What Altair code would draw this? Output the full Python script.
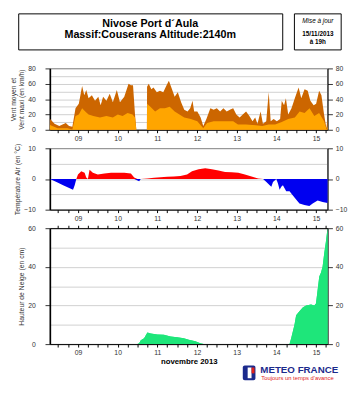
import altair as alt
import pandas as pd

# hours counted from 08/11/2013 19h (axis spans 7 days = 168 h)
wind_max_h = [0, 0.4, 2.8, 5.7, 9.6, 11.6, 13.6, 15.5, 17.5, 19.5, 20.8, 22, 23.4, 25.4, 27.3, 29.3, 30.7, 32.2, 34.2,
              36.2, 38.1, 40.5, 42.4, 45, 47.6, 49, 50.3, 51.5, 52.3, 58.7, 58.8, 59.8, 61.4, 62.7, 64.7, 66.6, 68.6,
              70.6, 72, 73.5, 75.5, 77.4, 79.4, 81.3, 83.3, 84.9, 86.3, 87.3, 89.2, 91.2, 92.8, 94.7, 97.1, 99.1, 101,
              103, 105, 107, 108.9, 110.9, 112.8, 114.8, 116.7, 118.7, 120.7, 122.6, 124.2, 125.6, 127.5, 128.9,
              130.9, 132.4, 133.6, 135.4, 137.3, 139.3, 140.3, 141.7, 142.8, 144.2, 146.2, 148.2, 150.5, 152.1, 154.1,
              156, 157.6, 159.6, 161.1, 162.9, 164.3, 165.9, 167.3, 168]
wind_max = [14, 13.5, 8, 5, 9, 5, 4, 28, 34, 57, 45, 52, 41, 45, 38, 43, 32, 43, 38,
            47, 36, 52, 36, 43, 60, 58, 58, 20, 0, 0, 56, 60, 53, 55, 49, 51, 49,
            58, 64, 55, 43, 49, 36, 26, 24, 28, 38, 24, 24, 16, 5, 14, 28, 26, 28,
            24, 28, 24, 26, 28, 20, 16, 20, 24, 18, 11, 16, 8, 24, 8,
            11, 49, 11, 14, 11, 14, 38, 32, 41, 20, 28, 41, 55, 41, 53,
            51, 38, 32, 34, 51, 45, 20, 2, 15]

wind_mean_h = [0, 0.4, 4.7, 10.6, 13.6, 15.5, 17.5, 19.5, 21.4, 23.4, 26.3, 30.3, 34.2, 38.1, 41.1, 44, 47, 50, 51.5,
               52.3, 58.7, 58.8, 60.8, 63.7, 66.6, 69.6, 72.5, 75.5, 78.4, 81.3, 85.3, 89.2, 92.8, 95.1, 99.1, 105,
               110.9, 113.8, 118.7, 124.6, 128.5, 132.4, 136.3, 140.3, 144.2, 148.2, 151.1, 154.1, 157.1, 160, 162.9,
               165.9, 167.5, 168]
wind_mean = [7, 6, 2, 2, 0.5, 18, 20, 28, 24, 20, 18, 16, 18, 16, 20, 18, 22, 20, 16,
             0, 0, 34, 30, 24, 28, 28, 30, 24, 20, 16, 14, 11, 2, 9, 11, 11,
             11, 7, 7, 6, 5, 7, 7, 10, 14, 16, 24, 22, 28, 18, 22,
             11, 0, 5]

temp_h = [0, 4, 8, 12, 14, 15, 16, 17, 19, 21, 22, 23, 24, 26, 29, 33, 37, 41, 45, 49, 51, 53, 54, 55, 59, 63, 67, 71, 75,
          79, 83, 86, 90, 94, 98, 102, 106, 110, 114, 118, 122, 126, 129, 131, 133, 134, 135, 137, 138, 139, 140, 141,
          143, 145, 148, 151, 154, 157, 159, 162, 165, 168]
temp = [0, -1, -2, -3, -3.5, -2, 0, 1.5, 2.5, 2, 0.5, 0, 3, 2, 1.5, 1.8, 2, 2, 2, 1.8, 0.5, -0.5, -0.7, 0, 0.2, 0.4, 0.6,
        0.7, 0.8, 1, 1.5, 2.5, 3.2, 3.5, 3.2, 2.8, 2.3, 2.2, 2, 1.5, 0.8, 0.2, 0, -1, -2, -2.5, -1, 0, -1.5, -3.5, -2.5,
        -2, -4, -4, -6, -8, -8.5, -8.8, -8, -7, -7.5, -7.8]

snow_h = [0, 53, 54, 55, 57, 59, 61, 65, 69, 73, 77, 81, 84, 88, 91, 93, 145, 146, 148, 149, 151, 153, 155, 158, 160, 161,
          162, 163, 164, 165, 166, 167, 168]
snow = [0, 0, 0.5, 2, 3, 6, 5.5, 5, 4.8, 4, 3.5, 3, 2.2, 1.5, 0.5, 0, 0, 3, 10, 15, 17, 19, 20, 20.5, 20, 21,
        28, 35, 37, 40, 47, 53, 60]

day_labels = ["09", "10", "11", "12", "13", "14", "15"]

W = 285
FONT = "Liberation Sans"
x_ticks = list(range(5, 168, 6))
label_map = "{" + ",".join(f"'{17 + 24 * i}': '{d}'" for i, d in enumerate(day_labels)) + "}"
label_expr = f"{label_map}[''+datum.value] || ''"
xs = alt.Scale(domain=[0, 168], nice=False, zero=False)


def x_axis(orient="bottom", title=None, labels=True):
    kw = dict(values=x_ticks, labelExpr=label_expr, grid=False, tickSize=3, labelFontSize=7, labelColor="#333",
              labelFont=FONT, domainColor="black", tickColor="black", labelPadding=2, orient=orient,
              labels=labels, labelFlush=False, labelOverlap=False)
    if title:
        kw.update(title=title, titleFont=FONT, titleFontSize=8, titleFontWeight="bold", titleColor="black",
                  titlePadding=2)
    else:
        kw.update(title=None)
    return alt.Axis(**kw)


def y_left(values, step, title):
    return alt.Axis(values=values, labelExpr=f"datum.value % {step} == 0 ? datum.label : ''", grid=True,
                    gridColor="#b0b0b0", gridWidth=0.6, tickSize=5, labelPadding=10, labelFontSize=7,
                    labelColor="#333", labelFont=FONT, domainColor="black", domainWidth=1.6, tickColor="#333",
                    tickOpacity={"condition": {"test": f"datum.value % {step} == 0", "value": 1}, "value": 0},
                    title=title, titleFont=FONT, titleFontSize=7, titleFontWeight="normal", titleColor="#333",
                    titlePadding=3, orient="left")


def y_right(values, step):
    return alt.Axis(values=values, labelExpr=f"datum.value % {step} == 0 ? datum.label : ''", grid=False,
                    tickSize=5, labelPadding=3, labelFontSize=7, labelColor="#333", labelFont=FONT,
                    domainColor="black", tickColor="#333",
                    tickOpacity={"condition": {"test": f"datum.value % {step} == 0", "value": 1}, "value": 0},
                    title=None, orient="right")


# ---------- panel 1 : wind ----------
df_max = pd.DataFrame({"h": wind_max_h, "v": wind_max})
df_mean = pd.DataFrame({"h": wind_mean_h, "v": wind_mean})
ys1 = alt.Scale(domain=[0, 80], nice=False)
v1 = list(range(0, 81, 10))
l_max = alt.Chart(df_max).mark_area(color="#CC6600").encode(
    x=alt.X("h:Q", scale=xs, axis=x_axis()),
    y=alt.Y("v:Q", scale=ys1, axis=y_left(v1, 20, ["Vent moyen et", "Vent maxi (en km/h)"])))
l_mean = alt.Chart(df_mean).mark_area(color="#FFA500").encode(
    x=alt.X("h:Q", scale=xs, axis=x_axis()),
    y=alt.Y("v:Q", scale=ys1, axis=y_right(v1, 20)))

hdr = pd.DataFrame({"a": [0]})
box1 = alt.Chart(hdr).mark_rect(fill="white", stroke="black", strokeWidth=1).encode(
    x=alt.value(-32), x2=alt.value(239), y=alt.value(-56), y2=alt.value(-19))
box2 = alt.Chart(hdr).mark_rect(fill="white", stroke="black", strokeWidth=1).encode(
    x=alt.value(251), x2=alt.value(299), y=alt.value(-56), y2=alt.value(-19))
t1 = alt.Chart(hdr).mark_text(text="Nivose Port d\u00b4Aula", font=FONT, fontSize=11, fontWeight="bold",
                              align="center", baseline="middle").encode(x=alt.value(103), y=alt.value(-46))
t2 = alt.Chart(hdr).mark_text(text="Massif:Couserans Altitude:2140m", font=FONT, fontSize=11, fontWeight="bold",
                              align="center", baseline="middle").encode(x=alt.value(103), y=alt.value(-34))
m1 = alt.Chart(hdr).mark_text(text="Mise \u00e0 jour", font=FONT, fontSize=6.5, fontStyle="italic",
                              align="center", baseline="middle").encode(x=alt.value(275), y=alt.value(-49))
m2 = alt.Chart(hdr).mark_text(text="15/11/2013", font=FONT, fontSize=6.5, fontWeight="bold",
                              align="center", baseline="middle").encode(x=alt.value(275), y=alt.value(-35))
m3 = alt.Chart(hdr).mark_text(text="\u00e0 19h", font=FONT, fontSize=6.5, fontWeight="bold",
                              align="center", baseline="middle").encode(x=alt.value(275), y=alt.value(-27))

p1 = alt.layer(l_max, l_mean, box1, box2, t1, t2, m1, m2, m3).resolve_axis(y="independent").properties(
    width=W, height=63)

# ---------- panel 2 : temperature ----------
df_t = pd.DataFrame({"h": temp_h, "t": temp})
ys2 = alt.Scale(domain=[-10, 10], nice=False)
v2 = list(range(-10, 11, 5))
base_t = alt.Chart(df_t).transform_calculate(pos="max(datum.t, 0)", neg="min(datum.t, 0)")
l_pos = base_t.mark_area(color="#FF0000").encode(
    x=alt.X("h:Q", scale=xs, axis=x_axis()),
    y=alt.Y("pos:Q", scale=ys2, axis=y_left(v2, 10, "Temp\u00e9rature Air (en \u00b0C)")))
l_neg = base_t.mark_area(color="#0000F0").encode(
    x=alt.X("h:Q", scale=xs, axis=x_axis()),
    y=alt.Y("neg:Q", scale=ys2, axis=y_right(v2, 10)))
p2 = alt.layer(l_pos, l_neg).resolve_axis(y="independent").properties(width=W, height=63)

# ---------- panel 3 : snow ----------
df_s = pd.DataFrame({"h": snow_h, "s": snow})
ys3 = alt.Scale(domain=[0, 60], nice=False)
v3 = list(range(0, 61, 10))
l_s1 = alt.Chart(df_s).mark_area(color="#1EE67A").encode(
    x=alt.X("h:Q", scale=xs, axis=x_axis(title="novembre 2013")),
    y=alt.Y("s:Q", scale=ys3, axis=y_left(v3, 20, "Hauteur de Neige (en cm)")))
l_s2 = alt.Chart(df_s).mark_area(color="#1EE67A").encode(
    x=alt.X("h:Q", scale=xs, axis=x_axis(orient="top", labels=False)),
    y=alt.Y("s:Q", scale=ys3, axis=y_right(v3, 20)))

logo_b = alt.Chart(hdr).mark_rect(fill="#1B2A8C", cornerRadius=2).encode(
    x=alt.value(198), x2=alt.value(211), y=alt.value(141), y2=alt.value(156))
logo_w = alt.Chart(hdr).mark_rect(fill="white").encode(
    x=alt.value(203), x2=alt.value(207), y=alt.value(143), y2=alt.value(154))
logo_r = alt.Chart(hdr).mark_rect(fill="#E2231A").encode(
    x=alt.value(207), x2=alt.value(210), y=alt.value(143), y2=alt.value(149))
logo_t = alt.Chart(hdr).mark_text(text="METEO FRANCE", font=FONT, fontSize=10, fontWeight="bold", color="#1B2A8C",
                                  align="left", baseline="middle").encode(x=alt.value(216), y=alt.value(146))
logo_s = alt.Chart(hdr).mark_text(text="Toujours un temps d'avance", font=FONT, fontSize=6, color="#E2231A",
                                  align="left", baseline="middle").encode(x=alt.value(217), y=alt.value(154))

p3 = alt.layer(l_s1, l_s2, logo_b, logo_w, logo_r, logo_t, logo_s).resolve_axis(
    x="independent", y="independent").properties(width=W, height=119)

chart = alt.vconcat(p1, p2, p3, spacing=19, bounds="flush").properties(
    padding=0, background="white").configure_view(stroke="#555", strokeWidth=0.8)

chart.save("out.html", embed_options={"renderer": "svg", "actions": False})
